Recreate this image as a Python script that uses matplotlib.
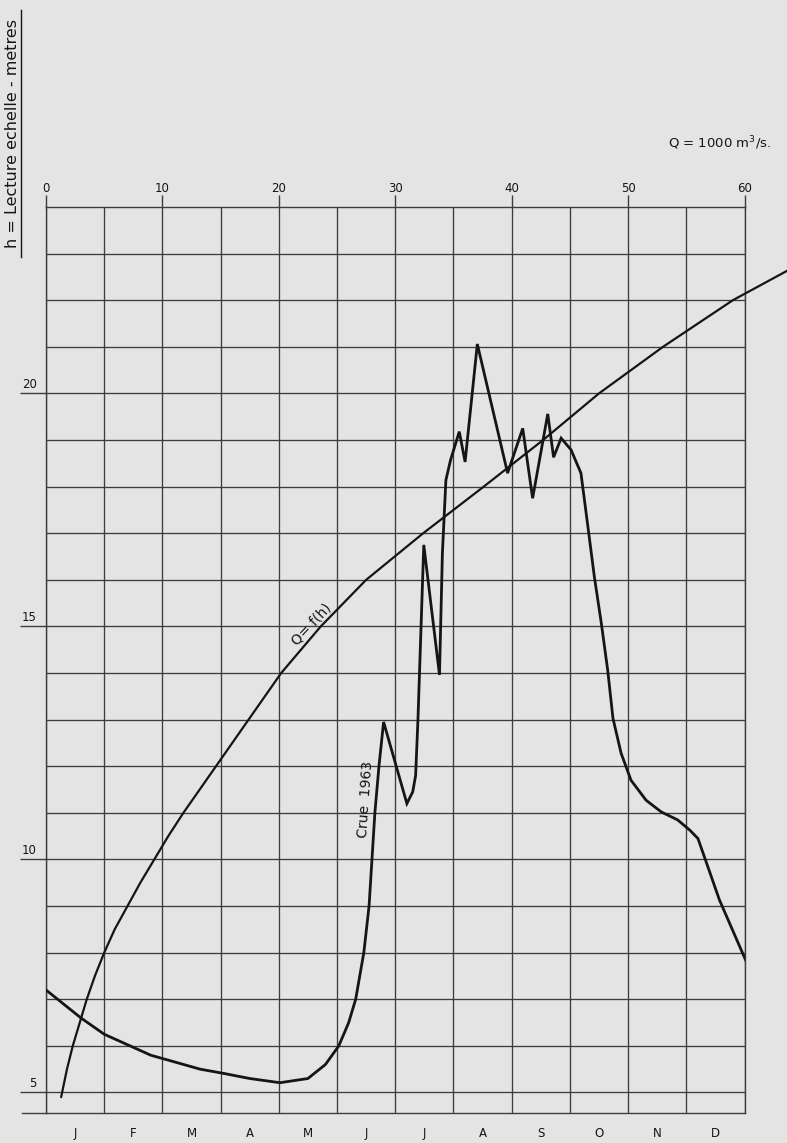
"""Rating curve Q = f(h) and the 1963 flood hydrograph on one sheet of graph paper."""
import matplotlib
matplotlib.use("Agg")
import matplotlib.pyplot as plt
import matplotlib.transforms as mtransforms
from matplotlib.lines import Line2D
import numpy as np

plt.rcParams["font.family"] = ["DejaVu Sans"]

# ---------------------------------------------------------------------------
# Data
# ---------------------------------------------------------------------------

# rating curve: discharge (x 1000 m3/s) against gauge reading h (m)
rating_q = [1.3, 1.8, 2.3, 2.9, 3.5, 4.2, 5.0, 5.9, 7.0, 8.1, 9.3, 10.5,
            11.8, 14.6, 17.4, 20.2, 23.6, 27.5, 32.4, 37.6, 42.7, 47.5,
            53.0, 59.0, 63.8]
rating_h = [4.9, 5.5, 6.0, 6.5, 7.0, 7.5, 8.0, 8.5, 9.0, 9.5, 10.0, 10.5,
            11.0, 12.0, 13.0, 14.0, 15.0, 16.0, 17.0, 18.0, 19.0, 20.0,
            21.0, 22.0, 22.65]

# 1963 flood: time in months from 1 January, gauge reading h (m)
crue_t = [0.0, 0.6, 1.0, 1.8, 2.65, 3.05, 3.5, 4.02, 4.5, 4.8, 5.03, 5.2,
          5.32, 5.46, 5.55, 5.60, 5.65, 5.72, 5.80, 6.20, 6.30, 6.35, 6.39,
          6.49, 6.76, 6.81, 6.87, 6.95, 7.10, 7.20, 7.41, 7.93, 8.19, 8.36,
          8.62, 8.72, 8.85, 9.02, 9.19, 9.31, 9.42, 9.54, 9.65, 9.74, 9.88,
          10.05, 10.31, 10.57, 10.85, 11.06, 11.20, 11.31, 11.57, 11.72, 12.03]
crue_h = [7.2, 6.6, 6.25, 5.8, 5.5, 5.41, 5.3, 5.21, 5.3, 5.6, 6.0, 6.5,
          7.0, 8.0, 9.0, 10.0, 11.0, 12.0, 12.95, 11.2, 11.45, 11.8, 13.0,
          16.75, 13.96, 16.57, 18.14, 18.57, 19.18, 18.53, 21.06, 18.29, 19.25, 17.75,
          19.56, 18.63, 19.04, 18.79, 18.29, 17.14, 16.07, 15.07, 14.06, 13.03, 12.28,
          11.70, 11.27, 11.02, 10.85, 10.63, 10.45, 10.06, 9.13, 8.70, 7.81]

q_ticks = [0, 10, 20, 30, 40, 50, 60]
h_ticks = [5, 10, 15, 20]
months = ["J", "F", "M", "A", "M", "J", "J", "A", "S", "O", "N", "D"]

# ---------------------------------------------------------------------------
# Figure
# ---------------------------------------------------------------------------

BG = "#e4e4e4"
INK = "#151515"
GRID = "#3c3c3c"
W, H = 787, 1143

fig = plt.figure(figsize=(W / 100, H / 100), dpi=100, facecolor=BG)
ax = fig.add_axes([46 / W, 30 / H, 698.5 / W, 906 / H])
ax.set_facecolor(BG)

# months axis for the flood curve (twiny moves the main ticks, so make it first)
axt = ax.twiny()

ax.set_xlim(0, 60)
ax.set_ylim(4.56, 24)

# graph paper: one column per 5 units (= one month), one row per metre
ax.set_xticks(q_ticks)
ax.set_xticks(np.arange(5, 60, 10), minor=True)
ax.set_yticks(h_ticks)
ax.set_yticks(np.arange(5, 24, 1), minor=True)
ax.grid(True, which="both", color=GRID, linewidth=0.95)
ax.set_axisbelow(True)
for s in ax.spines.values():
    s.set_color(GRID)
    s.set_linewidth(1.0)

ax.xaxis.set_ticks_position("top")
ax.xaxis.set_label_position("top")
ax.tick_params(axis="x", which="major", top=True, bottom=False,
               labeltop=True, labelbottom=False, length=8.5, width=1.0,
               color=GRID, pad=0.5, labelsize=8.5, labelcolor=INK)
ax.tick_params(axis="x", which="minor", top=False, bottom=False)
ax.tick_params(axis="y", which="major", left=True, length=18.5, width=1.0,
               color=GRID, labelleft=False)
ax.tick_params(axis="y", which="minor", left=False)

# h labels sit on top of the extended tick lines
lab_tr = mtransforms.blended_transform_factory(ax.transAxes, ax.transData)
for v in h_ticks:
    ax.text(-0.013, v + 0.05, str(v), transform=lab_tr, ha="right",
            va="bottom", fontsize=8.5, color=INK)

# bottom rule runs a little past the left edge
ax.add_line(Line2D([-0.034, 0], [0, 0], transform=ax.transAxes,
                   color=GRID, linewidth=1.0, clip_on=False))

# rating curve, drawn past the right edge of the grid
ax.plot(rating_q, rating_h, color=INK, linewidth=1.6, clip_on=False,
        solid_capstyle="round", zorder=4)
ax.text(22.8, 15.05, "Q= f(h)", rotation=47, rotation_mode="anchor",
        ha="center", va="center", fontsize=10, color=INK, zorder=5)

# flood hydrograph
axt.set_xlim(0, 12)
axt.plot(crue_t, crue_h, color=INK, linewidth=2.0, solid_joinstyle="miter",
         zorder=4)
axt.set_xticks(np.arange(12) + 0.5, labels=months)
axt.xaxis.set_ticks_position("bottom")
axt.tick_params(axis="x", which="both", top=False, labeltop=False,
                length=0, pad=10, labelsize=8.5, labelcolor=INK)
for s in axt.spines.values():
    s.set_visible(False)
axt.text(5.5, 11.3, "Crue  1963", rotation=86, ha="center", va="center",
         fontsize=10, color=INK)

# titles
fig.text(720 / W, 1 - 143 / H, "Q = 1000 m$^3$/s.", ha="center", va="center",
         fontsize=9.5, color=INK)
fig.text(13 / W, 1 - 134 / H, "h = Lecture echelle - metres", rotation=90,
         ha="center", va="center", fontsize=11.5, color=INK)
fig.add_artist(Line2D([21 / W, 21 / W], [1 - 257 / H, 1 - 10 / H],
                      transform=fig.transFigure, color=INK, linewidth=1.0))

fig.savefig("out.png", dpi=100, facecolor=BG)
